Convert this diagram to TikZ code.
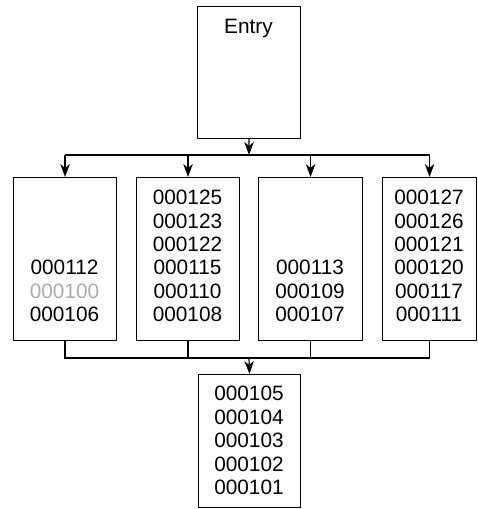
\documentclass[tikz,border=0pt]{standalone}
\usepackage{fontspec}
\setmainfont{Liberation Sans}
\usetikzlibrary{arrows.meta}
\begin{document}
\begin{tikzpicture}[x=1pt,y=-1pt,
  box/.style={draw,line width=1.1pt,inner sep=0pt,anchor=north west,minimum width=#1},
  box/.default=103pt,
  nums/.style={inner sep=0pt,anchor=south,align=center,font=\fontsize{20.8}{23.3}\selectfont},
  conn/.style={line width=1.2pt},
  arr/.style={conn,-{Stealth[length=13pt,width=9.5pt,inset=4pt]}}]
\useasboundingbox (0,0) rectangle (477,509);
% boxes
\node[box,minimum height=132pt] (entry) at (197,6) {};
\node[box,minimum height=163pt] (b1) at (13,177) {};
\node[box,minimum height=163pt] (b2) at (136,177) {};
\node[box=104pt,minimum height=163pt] (b3) at (258,177) {};
\node[box=94pt,minimum height=163pt] (b4) at (382,177) {};
\node[box=102pt,minimum height=133pt] (out) at (198,374) {};
% texts
\node[inner sep=0pt,anchor=base,font=\fontsize{20.8}{24}\selectfont] (tentry) at (248.5,33) {Entry};
\node[nums] (t1) at (64.5,321.7) {000112\\\textcolor{black!33}{000100}\\000106};
\node[nums] (t2) at (187.5,321.7) {000125\\000123\\000122\\000115\\000110\\000108};
\node[nums] (t3) at (310,321.7) {000113\\000109\\000107};
\node[nums] (t4) at (429,321.7) {000127\\000126\\000121\\000120\\000117\\000111};
\node[nums,font=\fontsize{20.8}{23.5}\selectfont] (tout) at (249,495) {000105\\000104\\000103\\000102\\000101};
% top connectors
\coordinate (hubT) at (249,155);
\coordinate (hubB) at (249,358);
\draw[arr] (entry.south) -- (hubT);
\draw[conn] (b1.north |- hubT) -- (b4.north |- hubT);
\draw[arr] (b1.north |- hubT) -- (b1.north);
\draw[arr] (b2.north |- hubT) -- (b2.north);
\draw[arr] (b3.north |- hubT) -- (b3.north);
\draw[arr] (b4.north |- hubT) -- (b4.north);
% bottom connectors
\draw[conn] (b1.south) -- (b1.south |- hubB) -- (b4.south |- hubB) -- (b4.south);
\draw[conn] (b2.south) -- (b2.south |- hubB);
\draw[conn] (b3.south) -- (b3.south |- hubB);
\draw[arr] (hubB) -- (out.north);
\end{tikzpicture}
\end{document}
